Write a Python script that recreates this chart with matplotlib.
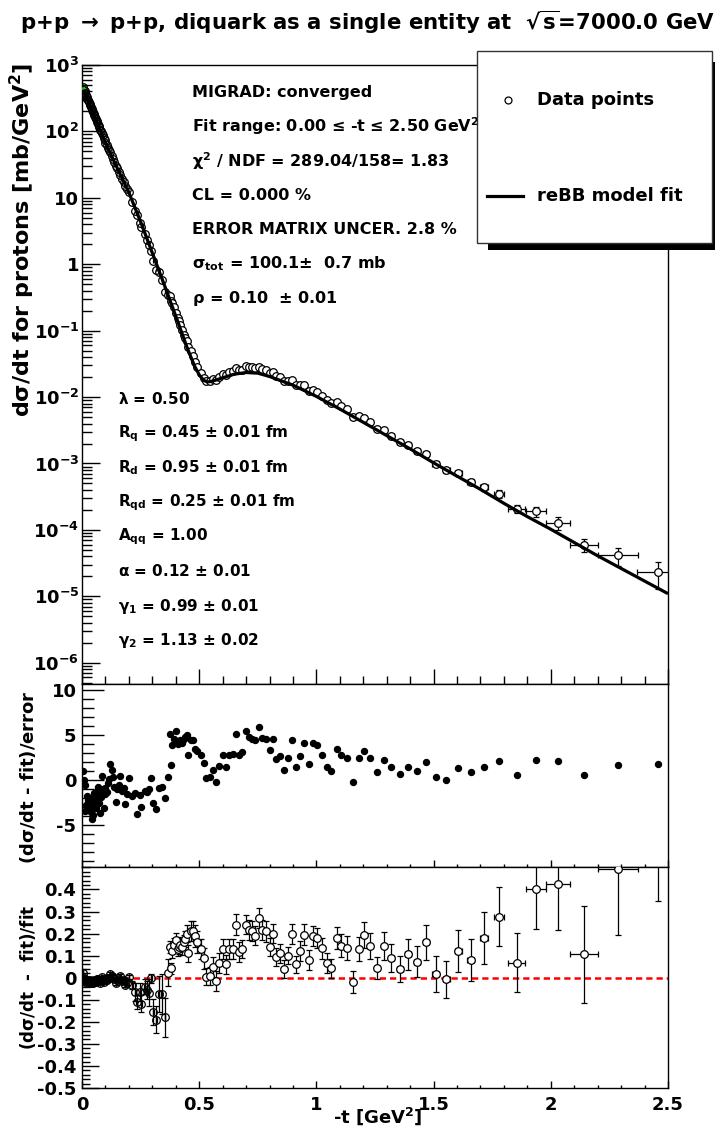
import numpy as np
import matplotlib
matplotlib.use('Agg')
import matplotlib.pyplot as plt
from matplotlib.patches import Rectangle
from matplotlib.lines import Line2D
from matplotlib.ticker import FixedLocator, FixedFormatter, MultipleLocator, NullFormatter

plt.rcParams['font.family'] = ['DejaVu Sans']
plt.rcParams['font.weight'] = 'bold'
plt.rcParams['mathtext.fontset'] = 'dejavusans'
plt.rcParams['mathtext.default'] = 'bf'

# ---------------- data ----------------
t_data = [0.005, 0.008, 0.011, 0.014, 0.017, 0.020, 0.023, 0.026, 0.029, 0.032, 0.035, 0.038, 0.041, 0.044,
          0.047, 0.050, 0.053, 0.056, 0.059, 0.062, 0.065, 0.068, 0.071, 0.074, 0.077, 0.080, 0.084, 0.088,
          0.092, 0.096, 0.100, 0.105, 0.110, 0.115, 0.120, 0.126, 0.132, 0.138, 0.144, 0.150, 0.157, 0.164,
          0.171, 0.178, 0.185, 0.192, 0.200,
          0.214, 0.228, 0.233, 0.249, 0.253, 0.268, 0.276, 0.284, 0.296, 0.305, 0.317, 0.327, 0.340, 0.354,
          0.368, 0.375, 0.379, 0.385, 0.392, 0.403, 0.408, 0.414, 0.420, 0.428, 0.435, 0.441, 0.447, 0.453,
          0.463, 0.473, 0.482, 0.492, 0.506, 0.519, 0.529, 0.545, 0.560, 0.572, 0.586, 0.601, 0.613, 0.628,
          0.646, 0.656, 0.669, 0.681, 0.700, 0.714, 0.726, 0.739, 0.755, 0.767, 0.784, 0.800, 0.813, 0.829,
          0.844, 0.860, 0.879, 0.897, 0.914, 0.928, 0.947, 0.967, 0.984, 1.004, 1.023, 1.045, 1.064, 1.086,
          1.107, 1.130, 1.156, 1.181, 1.204, 1.230, 1.260, 1.290, 1.320, 1.356, 1.390, 1.430, 1.467, 1.510,
          1.553, 1.605, 1.658, 1.716, 1.780, 1.854, 1.936, 2.030, 2.140, 2.286, 2.457]

t_err = [0.001] * 47 + [0.002] * 14 + [0.005] * 51 + [0.008] * 13 + [0.012] * 5 + [0.015] * 4 + \
        [0.017, 0.022, 0.037, 0.043, 0.050, 0.060, 0.085, 0.090]

# log10 of dsigma/dt [mb/GeV^2]
log_dsdt = [2.666, 2.631, 2.603, 2.571, 2.547, 2.523, 2.494, 2.470, 2.444, 2.417, 2.394, 2.363, 2.336, 2.316,
            2.286, 2.263, 2.240, 2.212, 2.185, 2.164, 2.136, 2.113, 2.082, 2.060, 2.028, 2.007, 1.979, 1.940,
            1.901, 1.870, 1.827, 1.788, 1.753, 1.716, 1.685, 1.636, 1.588, 1.538, 1.485, 1.446, 1.395, 1.349,
            1.288, 1.238, 1.176, 1.129, 1.081,
            0.942, 0.805, 0.739, 0.620, 0.558, 0.453, 0.371, 0.289, 0.207, 0.050, -0.082, -0.117, -0.239, -0.424,
            -0.463, -0.483, -0.560, -0.587, -0.642, -0.741, -0.805, -0.860, -0.915, -0.997, -1.059, -1.112, -1.162, -1.251,
            -1.300, -1.386, -1.467, -1.544, -1.638, -1.709, -1.760, -1.764, -1.734, -1.749, -1.697, -1.656, -1.671, -1.626,
            -1.606, -1.559, -1.598, -1.587, -1.537, -1.548, -1.552, -1.563, -1.541, -1.572, -1.591, -1.633, -1.628, -1.689,
            -1.702, -1.751, -1.752, -1.737, -1.819, -1.819, -1.823, -1.901, -1.888, -1.926, -1.980, -2.047, -2.094, -2.081,
            -2.135, -2.185, -2.300, -2.289, -2.311, -2.381, -2.482, -2.502, -2.583, -2.675, -2.716, -2.812, -2.857, -3.003,
            -3.099, -3.150, -3.273, -3.352, -3.452, -3.679, -3.722, -3.893, -4.226, -4.383, -4.640]

# (dsigma/dt - fit)/fit
rel_res = [0.020, 0.000, -0.004, -0.021, -0.017, -0.011, -0.019, -0.013, -0.016, -0.018, -0.012, -0.022, -0.026, -0.014,
           -0.023, -0.016, -0.009, -0.014, -0.019, -0.007, -0.012, -0.005, -0.016, -0.009, -0.022, -0.011, 0.002, -0.006,
           -0.019, -0.010, -0.006, -0.009, -0.002, 0.001, 0.016, 0.010, 0.003, -0.008, -0.025, -0.010, -0.007, 0.006,
           -0.015, -0.012, -0.035, -0.022, 0.003,
           -0.033, -0.064, -0.110, -0.064, -0.117, -0.040, -0.056, -0.068, -0.003, -0.155, -0.190, -0.074, -0.074, -0.180,
           0.023, 0.140, 0.042, 0.120, 0.150, 0.170, 0.130, 0.140, 0.150, 0.140, 0.160, 0.175, 0.200, 0.110,
           0.210, 0.210, 0.190, 0.160, 0.130, 0.088, 0.005, 0.008, 0.050, -0.014, 0.068, 0.130, 0.060, 0.130,
           0.130, 0.240, 0.118, 0.130, 0.240, 0.217, 0.210, 0.190, 0.270, 0.217, 0.210, 0.140, 0.200, 0.095,
           0.110, 0.040, 0.100, 0.200, 0.060, 0.120, 0.195, 0.080, 0.190, 0.180, 0.133, 0.068, 0.042, 0.180,
           0.145, 0.136, -0.018, 0.130, 0.194, 0.145, 0.042, 0.144, 0.090, 0.040, 0.106, 0.073, 0.160, 0.017,
           -0.008, 0.123, 0.080, 0.180, 0.277, 0.068, 0.400, 0.426, 0.107, 0.494, 0.780]

rel_err = [0.020] + [0.006] * 33 + [0.009] * 13 + \
          [0.018, 0.040, 0.030, 0.040, 0.040, 0.035, 0.040, 0.060, 0.020, 0.060, 0.060, 0.080, 0.090, 0.090,
           0.060, 0.027, 0.025, 0.030, 0.032, 0.032, 0.032, 0.032, 0.034, 0.035, 0.035, 0.037, 0.040, 0.040,
           0.045, 0.045, 0.050, 0.050, 0.047, 0.047, 0.040, 0.040, 0.045, 0.045, 0.045, 0.047, 0.045, 0.047,
           0.045, 0.047, 0.045, 0.042, 0.044, 0.045, 0.045, 0.043, 0.046, 0.046, 0.046, 0.042, 0.043, 0.042,
           0.041, 0.040, 0.040, 0.045, 0.040, 0.045, 0.048, 0.045, 0.046, 0.046, 0.048, 0.046, 0.045, 0.052,
           0.053, 0.055, 0.050, 0.055, 0.060, 0.060, 0.050, 0.065, 0.065, 0.060, 0.070, 0.070, 0.080, 0.080,
           0.085, 0.095, 0.095, 0.120, 0.135, 0.135, 0.180, 0.210, 0.220, 0.300, 0.430]

# (dsigma/dt - fit)/error
pull = [1.0, 0.0, -0.6, -3.5, -2.8, -1.8, -3.2, -2.2, -2.6, -3.0, -2.0, -3.6, -4.3, -2.4,
        -3.9, -2.7, -1.5, -2.3, -3.1, -1.2, -2.0, -0.8, -2.6, -1.5, -3.7, -1.9, 0.4, -1.0,
        -3.1, -1.6, -0.9, -1.3, -0.3, 0.1, 1.8, 1.1, 0.3, -0.8, -2.5, -1.0, -0.6, 0.5,
        -1.2, -0.9, -2.7, -1.6, 0.2,
        -1.8, -1.5, -3.8, -1.7, -3.0, -1.2, -1.3, -1.0, 0.2, -2.6, -3.2, -0.9, -0.8, -2.0,
        0.3, 5.1, 1.64, 3.9, 4.6, 5.4, 4.0, 4.3, 4.5, 4.1, 4.6, 4.8, 5.0, 2.8,
        4.4, 4.5, 3.5, 3.2, 2.75, 1.86, 0.19, 0.37, 1.1, -0.19, 1.6, 2.8, 1.5, 2.8,
        2.86, 5.1, 2.8, 3.1, 5.4, 4.8, 4.6, 4.4, 5.9, 4.7, 4.6, 3.3, 4.6, 2.3,
        2.7, 1.1, 2.5, 4.5, 1.5, 2.7, 4.1, 1.8, 4.1, 3.9, 2.8, 1.5, 1.0, 3.5,
        2.75, 2.5, -0.22, 2.4, 3.2, 2.45, 0.85, 2.2, 1.4, 0.67, 1.5, 1.04, 2.0, 0.3,
        0.04, 1.34, 0.85, 1.5, 2.1, 0.6, 2.2, 2.1, 0.6, 1.7, 1.8]

# reBB model fit curve (log10 of dsigma/dt)
fit_t = [0.0, 0.05, 0.077, 0.10, 0.15, 0.20, 0.25, 0.30, 0.35, 0.40, 0.45, 0.48, 0.50, 0.52, 0.535, 0.55,
         0.57, 0.60, 0.65, 0.70, 0.75, 0.80, 0.90, 1.00, 1.10, 1.20, 1.30, 1.40, 1.50, 1.60, 1.70, 1.80,
         1.90, 2.00, 2.10, 2.20, 2.30, 2.40, 2.50]
fit_log = [2.70, 2.27, 2.03, 1.83, 1.45, 1.08, 0.64, 0.17, -0.30, -0.78, -1.27, -1.53, -1.665, -1.75, -1.772, -1.765,
           -1.745, -1.71, -1.655, -1.63, -1.64, -1.69, -1.82, -1.99, -2.18, -2.38, -2.58, -2.78, -2.99, -3.19, -3.39, -3.60,
           -3.80, -3.99, -4.19, -4.39, -4.58, -4.77, -4.96]

title_text = r"p+p $\mathrm{\rightarrow}$ p+p, diquark as a single entity at  $\sqrt{s}$=7000.0 GeV"
fit_info = ["MIGRAD: converged",
            "Fit range: 0.00 \u2264 -t \u2264 2.50 GeV$^{2}$",
            "$\\mathrm{\\chi}^{2}$ / NDF = 289.04/158= 1.83",
            "CL = 0.000 %",
            "ERROR MATRIX UNCER. 2.8 %",
            "$\\mathrm{\\sigma}_{tot}$ = 100.1\u00b1  0.7 mb",
            "$\\mathrm{\\rho}$ = 0.10  \u00b1 0.01"]
par_info = ["$\\mathrm{\\lambda}$ = 0.50",
            "R$_{q}$ = 0.45 \u00b1 0.01 fm",
            "R$_{d}$ = 0.95 \u00b1 0.01 fm",
            "R$_{qd}$ = 0.25 \u00b1 0.01 fm",
            "A$_{qq}$ = 1.00",
            "$\\mathrm{\\alpha}$ = 0.12 \u00b1 0.01",
            "$\\mathrm{\\gamma}_{1}$ = 0.99 \u00b1 0.01",
            "$\\mathrm{\\gamma}_{2}$ = 1.13 \u00b1 0.02"]
legend_labels = ["Data points", "reBB model fit"]

# ---------------- figure ----------------
W, H = 715, 1135
def fx(x): return x / W
def fy(y): return 1 - y / H

fig = plt.figure(figsize=(W / 100, H / 100), dpi=100)
L, R = 82, 668
def axes_px(top, bottom):
    return fig.add_axes([fx(L), fy(bottom), (R - L) / W, (bottom - top) / H])

ax1 = axes_px(65, 684)
ax2 = axes_px(684, 867)
ax3 = axes_px(867, 1088)

t = np.array(t_data)
te = np.array(t_err)
y = 10.0 ** np.array(log_dsdt)
rr = np.array(rel_res)
re = np.array(rel_err)
pu = np.array(pull)
low = t < 0.36
high = ~low

for ax in (ax1, ax2, ax3):
    ax.set_xlim(0, 2.5)
    for s in ax.spines.values():
        s.set_linewidth(1.0)
    ax.xaxis.set_major_locator(MultipleLocator(0.5))
    ax.xaxis.set_minor_locator(MultipleLocator(0.1))
    ax.tick_params(which='both', direction='in', top=False, right=False, width=1)

# --- top panel ---
ax1.set_yscale('log')
ax1.set_ylim(10 ** -6.32, 1e3)
ax1.errorbar(t[low], y[low], xerr=te[low], yerr=y[low] * re[low], fmt='o', ms=5.5, mfc='none',
             mec='black', mew=0.9, ecolor='black', elinewidth=0.9, capsize=0, zorder=3)
ax1.errorbar(t[high], y[high], xerr=te[high], yerr=y[high] * re[high], fmt='o', ms=5.5, mfc='white',
             mec='black', mew=0.9, ecolor='black', elinewidth=0.9, capsize=2.5, capthick=0.9, zorder=3)
fit_t_arr = np.array(fit_t)
fit_y = 10.0 ** np.array(fit_log)
ax1.plot(fit_t_arr, fit_y, color='black', lw=2.3, zorder=5, solid_capstyle='butt')
ax1.plot(t[:2], y[:2], color='#00cc00', lw=2.5, zorder=6, solid_capstyle='butt')

yt = [10.0 ** k for k in range(-6, 4)]
ylabs = ["$10^{-6}$", "$10^{-5}$", "$10^{-4}$", "$10^{-3}$", "$10^{-2}$", "$10^{-1}$", "1", "10",
         "$10^{2}$", "$10^{3}$"]
ax1.yaxis.set_major_locator(FixedLocator(yt))
ax1.yaxis.set_major_formatter(FixedFormatter(ylabs))
minor = [m * 10.0 ** k for k in range(-7, 3) for m in range(2, 10)]
ax1.yaxis.set_minor_locator(FixedLocator(minor))
ax1.yaxis.set_minor_formatter(NullFormatter())
ax1.tick_params(axis='y', which='major', length=13, labelsize=13, pad=2)
ax1.tick_params(axis='y', which='minor', length=7)
ax1.tick_params(axis='x', which='major', length=11, labelbottom=False)
ax1.tick_params(axis='x', which='minor', length=5.5)

for i, s in enumerate(fit_info):
    fig.text(fx(192), fy(92 + i * 34.4), s, fontsize=11.5, fontweight='bold', va='center', ha='left')
for i, s in enumerate(par_info):
    fig.text(fx(118), fy(399 + i * 34.5), s, fontsize=11, fontweight='bold', va='center', ha='left')

# --- middle panel ---
ax2.set_ylim(-9.67, 10.67)
ax2.plot(t, pu, 'o', color='black', ms=4.3, zorder=3)
ax2.yaxis.set_major_locator(FixedLocator([-5, 0, 5, 10]))
ax2.yaxis.set_major_formatter(FixedFormatter(["-5", "0", "5", "10"]))
ax2.yaxis.set_minor_locator(MultipleLocator(1))
ax2.tick_params(axis='y', which='major', length=16, labelsize=13, pad=4)
ax2.tick_params(axis='y', which='minor', length=8.5)
ax2.tick_params(axis='x', which='major', length=5, labelbottom=False)
ax2.tick_params(axis='x', which='minor', length=2.5)

# --- bottom panel ---
ax3.set_ylim(-0.5, 0.502)
ax3.axhline(0, color='red', lw=1.8, ls=(0, (2.5, 1.6)), zorder=1)
ax3.errorbar(t[low], rr[low], xerr=te[low], yerr=re[low], fmt='o', ms=5.5, mfc='none',
             mec='black', mew=0.9, ecolor='black', elinewidth=0.9, capsize=2.5, capthick=0.9, zorder=3)
ax3.errorbar(t[high], rr[high], xerr=te[high], yerr=re[high], fmt='o', ms=5.5, mfc='white',
             mec='black', mew=0.9, ecolor='black', elinewidth=0.9, capsize=2.5, capthick=0.9, zorder=3)
yt3 = [-0.5, -0.4, -0.3, -0.2, -0.1, 0.0, 0.1, 0.2, 0.3, 0.4]
ax3.yaxis.set_major_locator(FixedLocator(yt3))
ax3.yaxis.set_major_formatter(FixedFormatter(["-0.5", "-0.4", "-0.3", "-0.2", "-0.1", "0", "0.1", "0.2", "0.3", "0.4"]))
ax3.yaxis.set_minor_locator(MultipleLocator(0.02))
ax3.tick_params(axis='y', which='major', length=12, labelsize=13, pad=4)
ax3.tick_params(axis='y', which='minor', length=6)
ax3.xaxis.set_major_locator(FixedLocator([0, 0.5, 1, 1.5, 2, 2.5]))
ax3.xaxis.set_major_formatter(FixedFormatter(["0", "0.5", "1", "1.5", "2", "2.5"]))
ax3.tick_params(axis='x', which='major', length=5, labelsize=13, pad=6)
ax3.tick_params(axis='x', which='minor', length=2.5)

# --- axis titles ---
fig.text(fx(22), fy(63), "d$\\mathrm{\\sigma}$/dt for protons [mb/GeV$^{2}$]", rotation=90, fontsize=16,
         fontweight='bold', ha='center', va='top')
fig.text(fx(28), fy(777), "(d$\\mathrm{\\sigma}$/dt - fit)/error", rotation=90, fontsize=13,
         fontweight='bold', ha='center', va='center')
fig.text(fx(28), fy(977), "(d$\\mathrm{\\sigma}$/dt  -  fit)/fit", rotation=90, fontsize=12,
         fontweight='bold', ha='center', va='center')
fig.text(fx(378), fy(1116), "-t [GeV$^{2}$]", fontsize=13, fontweight='bold', ha='center', va='center')

# --- title ---
fig.text(fx(368), fy(22), title_text, fontsize=15.3, fontweight='bold', ha='center', va='center')

# --- legend box with shadow ---
bx0, by0, bx1, by1 = 477, 51, 712, 243
fig.add_artist(Rectangle((fx(bx0 + 11), fy(by1 + 7)), (bx1 - bx0) / W, (by1 - by0 - 4) / H,
                         transform=fig.transFigure, facecolor='black', edgecolor='none', zorder=10))
fig.add_artist(Rectangle((fx(bx0), fy(by1)), (bx1 - bx0) / W, (by1 - by0) / H,
                         transform=fig.transFigure, facecolor='white', edgecolor='#333333', lw=1.0, zorder=11))
fig.add_artist(Line2D([fx(508)], [fy(100)], marker='o', ms=5, mfc='none', mec='black', mew=0.9,
                      transform=fig.transFigure, zorder=12))
fig.text(fx(537), fy(100), legend_labels[0], fontsize=13, fontweight='bold', va='center', ha='left', zorder=12)
fig.add_artist(Line2D([fx(487), fx(523)], [fy(196), fy(196)], color='black', lw=2.3,
                      transform=fig.transFigure, zorder=12))
fig.text(fx(537), fy(196), legend_labels[1], fontsize=13, fontweight='bold', va='center', ha='left', zorder=12)

fig.savefig('out.png', dpi=100)
